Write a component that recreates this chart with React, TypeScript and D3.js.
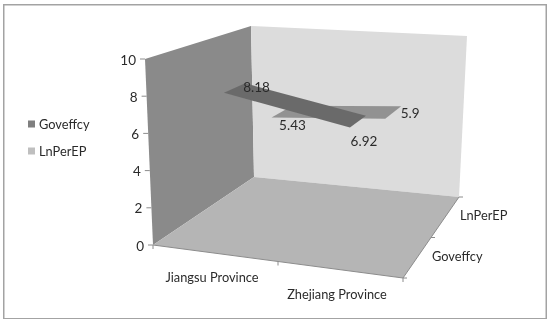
import React from 'react';
import * as d3 from 'd3';

const categories = ['Jiangsu Province', 'Zhejiang Province'];
const seriesNames = ['Goveffcy', 'LnPerEP'];
const goveffcy = [8.18, 6.92];
const lnPerEP = [5.43, 5.9];
const valueTicks = [0, 2, 4, 6, 8, 10];

const width = 550;
const height = 323;

// corners of the 3d box as it is seen on the page
const floorBox = { fl: [153, 245], fr: [403, 278], bl: [254, 177], br: [459, 197] };
const topBox = { fl: [145, 59], fr: [405, 80], bl: [251, 26], br: [467, 36] };

const uScale = d3.scaleBand<string>().domain(categories).range([0, 1]);
const vScale = d3.scaleBand<string>().domain(seriesNames).range([0, 1]).paddingInner(0.55).paddingOuter(0.275);
const wScale = d3.scaleLinear().domain([0, 10]).range([0, 1]);

function plane(box: typeof floorBox, u: number, v: number) {
  const front = d3.interpolateArray(box.fl, box.fr)(u) as number[];
  const back = d3.interpolateArray(box.bl, box.br)(u) as number[];
  return d3.interpolateArray(front, back)(v) as number[];
}

function project(u: number, v: number, w: number): [number, number] {
  const a = plane(floorBox, u, v);
  const b = plane(topBox, u, v);
  return [a[0] + (b[0] - a[0]) * w, a[1] + (b[1] - a[1]) * w];
}

const line = d3.line();
const closed = (pts: [number, number][]) => line(pts) + 'Z';

function ribbon(name: string, values: number[]) {
  const v0 = vScale(name)!;
  const v1 = v0 + vScale.bandwidth();
  const us = categories.map(c => uScale(c)! + uScale.bandwidth() / 2);
  return closed([
    project(us[0], v0, wScale(values[0])),
    project(us[1], v0, wScale(values[1])),
    project(us[1], v1, wScale(values[1])),
    project(us[0], v1, wScale(values[0])),
  ]);
}

function dataLabels(name: string, values: number[], offsets: [number, number][]) {
  const v = vScale(name)! + vScale.bandwidth() / 2;
  return values.map((d, i) => {
    const u = uScale(categories[i])! + uScale.bandwidth() / 2;
    const p = project(u, v, wScale(d));
    return (
      <text key={name + i} x={p[0] + offsets[i][0]} y={p[1] + offsets[i][1]} textAnchor="middle" dominantBaseline="central">
        {d}
      </text>
    );
  });
}

export default function App() {
  const legendColors = ['#7f7f7f', '#bfbfbf'];
  return (
    <svg
      width={width}
      height={height}
      style={{ position: 'fixed', left: 0, top: 0, background: '#fff' }}
      fontFamily="Lato, 'Open Sans', sans-serif"
      fontSize={12.8}
      fill="#2b2b2b"
    >
      <defs>
        <filter id="soft" x="0" y="0" width="100%" height="100%">
          <feGaussianBlur stdDeviation="0.35" />
        </filter>
      </defs>
      <g filter="url(#soft)">
        <rect x={3.5} y={4.5} width={543} height={314.5} fill="#fff" stroke="#a3a3a3" strokeWidth={2} />

        {/* walls and floor */}
        <path d={closed([project(0, 0, 0), project(0, 1, 0), project(0, 1, 1), project(0, 0, 1)])} fill="#8a8a8a" />
        <path d={closed([project(0, 1, 0), project(1, 1, 0), project(1, 1, 1), project(0, 1, 1)])} fill="#dcdcdc" />
        <path d={closed([project(0, 0, 0), project(1, 0, 0), project(1, 1, 0), project(0, 1, 0)])} fill="#b5b5b5" />

        {/* axis lines and ticks */}
        <g stroke="#8c8c8c" strokeWidth={1} fill="none">
          <path d={line([project(0, 0, 0), project(1, 0, 0), project(1, 1, 0)])!} />
          {valueTicks.map(t => {
            const p = project(0, 0, wScale(t));
            return <line key={t} x1={p[0] - 5} x2={p[0]} y1={p[1]} y2={p[1]} />;
          })}
          {[0, 0.5, 1].map(u => {
            const p = project(u, 0, 0);
            return <line key={u} x1={p[0]} x2={p[0]} y1={p[1]} y2={p[1] + 4} />;
          })}
          {[0, 0.5, 1].map(v => {
            const p = project(1, v, 0);
            return <line key={v} x1={p[0]} x2={p[0] + 4} y1={p[1]} y2={p[1]} />;
          })}
        </g>

        {/* series, back one first */}
        <path d={ribbon('LnPerEP', lnPerEP)} fill="#929292" />
        <path d={ribbon('Goveffcy', goveffcy)} fill="#6b6b6b" />

        <g fontSize={13.5}>
          {valueTicks.map(t => {
            const p = project(0, 0, wScale(t));
            return (
              <text key={t} x={p[0] - 9} y={p[1] + 0.5} textAnchor="end" dominantBaseline="central">
                {t}
              </text>
            );
          })}
          {dataLabels('Goveffcy', goveffcy, [[22, -1], [6, 19]])}
          {dataLabels('LnPerEP', lnPerEP, [[10.5, 13], [17, 0]])}
        </g>

        {categories.map(c => {
          const p = project(uScale(c)! + uScale.bandwidth() / 2, 0, 0);
          return (
            <text key={c} x={p[0] - 3.5} y={p[1] + 24} textAnchor="middle" dominantBaseline="central">
              {c}
            </text>
          );
        })}
        {seriesNames.map(s => {
          const p = project(1, vScale(s)! + vScale.bandwidth() / 2, 0);
          return (
            <text key={s} x={p[0] + 15} y={p[1] - 2} dominantBaseline="central">
              {s}
            </text>
          );
        })}

        {seriesNames.map((s, i) => {
          const y = 124 + i * 27;
          return (
            <g key={s}>
              <rect x={28} y={y - 3.5} width={7} height={7} fill={legendColors[i]} />
              <text x={39} y={y} dominantBaseline="central">
                {s}
              </text>
            </g>
          );
        })}
      </g>
    </svg>
  );
}
